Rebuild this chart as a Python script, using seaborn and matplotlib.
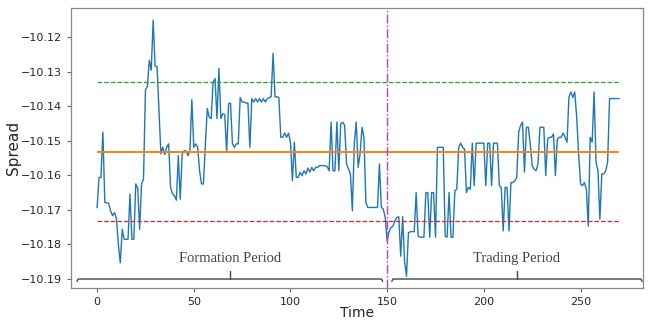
import numpy as np
import pandas as pd
import matplotlib
matplotlib.use("Agg")
import matplotlib.pyplot as plt
import seaborn as sns

# ── data ──────────────────────────────────────────────────────
formation_spread = [
    -10.1694, -10.1606, -10.1606, -10.1475, -10.1679, -10.1679, -10.1682, -10.1703, -10.1717, -10.1708,
    -10.1724, -10.1800, -10.1853, -10.1756, -10.1785, -10.1785, -10.1785, -10.1654, -10.1785, -10.1785,
    -10.1625, -10.1637, -10.1756, -10.1625, -10.1611, -10.1354, -10.1342, -10.1267, -10.1296, -10.1151,
    -10.1284, -10.1286, -10.1412, -10.1538, -10.1519, -10.1540, -10.1519, -10.1509, -10.1635, -10.1654,
    -10.1659, -10.1672, -10.1543, -10.1669, -10.1538, -10.1529, -10.1529, -10.1543, -10.1529, -10.1381,
    -10.1519, -10.1509, -10.1519, -10.1587, -10.1625, -10.1625, -10.1509, -10.1407, -10.1432, -10.1436,
    -10.1330, -10.1320, -10.1436, -10.1291, -10.1436, -10.1422, -10.1424, -10.1533, -10.1393, -10.1391,
    -10.1509, -10.1519, -10.1509, -10.1509, -10.1375, -10.1388, -10.1388, -10.1391, -10.1391, -10.1519,
    -10.1378, -10.1388, -10.1378, -10.1388, -10.1378, -10.1388, -10.1378, -10.1388, -10.1378, -10.1375,
    -10.1373, -10.1247, -10.1373, -10.1373, -10.1375, -10.1490, -10.1490, -10.1478, -10.1490, -10.1478,
    -10.1504, -10.1616, -10.1504, -10.1606, -10.1606, -10.1591, -10.1601, -10.1587, -10.1596, -10.1579,
    -10.1591, -10.1577, -10.1587, -10.1577, -10.1577, -10.1572, -10.1572, -10.1572, -10.1572, -10.1575,
    -10.1587, -10.1446, -10.1587, -10.1587, -10.1446, -10.1587, -10.1451, -10.1446, -10.1456, -10.1567,
    -10.1582, -10.1596, -10.1703, -10.1509, -10.1446, -10.1577, -10.1538, -10.1461, -10.1490, -10.1679,
    -10.1693, -10.1693, -10.1693, -10.1693, -10.1693, -10.1693, -10.1567, -10.1693, -10.1698, -10.1722,
]
trading_spread = [
    -10.1790, -10.1761, -10.1751, -10.1747, -10.1732, -10.1722, -10.1720, -10.1834, -10.1720, -10.1848,
    -10.1892, -10.1766, -10.1763, -10.1763, -10.1763, -10.1650, -10.1776, -10.1779, -10.1779, -10.1779,
    -10.1650, -10.1650, -10.1779, -10.1650, -10.1650, -10.1779, -10.1519, -10.1519, -10.1519, -10.1519,
    -10.1776, -10.1779, -10.1650, -10.1779, -10.1779, -10.1645, -10.1640, -10.1519, -10.1507, -10.1519,
    -10.1524, -10.1650, -10.1635, -10.1640, -10.1507, -10.1630, -10.1507, -10.1507, -10.1507, -10.1507,
    -10.1507, -10.1630, -10.1507, -10.1507, -10.1630, -10.1507, -10.1507, -10.1507, -10.1630, -10.1635,
    -10.1761, -10.1635, -10.1635, -10.1761, -10.1621, -10.1621, -10.1616, -10.1606, -10.1475, -10.1456,
    -10.1446, -10.1591, -10.1461, -10.1461, -10.1509, -10.1572, -10.1582, -10.1587, -10.1567, -10.1461,
    -10.1461, -10.1461, -10.1601, -10.1495, -10.1490, -10.1490, -10.1480, -10.1601, -10.1495, -10.1490,
    -10.1490, -10.1478, -10.1490, -10.1504, -10.1373, -10.1359, -10.1375, -10.1359, -10.1432, -10.1538,
    -10.1625, -10.1630, -10.1621, -10.1640, -10.1747, -10.1490, -10.1504, -10.1359, -10.1562, -10.1587,
    -10.1727, -10.1596, -10.1596, -10.1587, -10.1562, -10.1378, -10.1378, -10.1378, -10.1378, -10.1378,
    -10.1378,
]
upper_band = -10.1331
mean_level = -10.1534
lower_band = -10.1733
split_at = 150
formation_span = (-10.4, 147.7)
trading_span = (152.4, 281.8)
period_labels = ["Formation Period", "Trading Period"]

spread = formation_spread + trading_spread
df = pd.DataFrame({"Time": np.arange(len(spread)), "Spread": spread})

# ── figure ────────────────────────────────────────────────────
sns.set_style("ticks")
plt.rcParams['font.family'] = ['DejaVu Sans']
fig = plt.figure(figsize=(6.53, 3.2), dpi=100)
ax = fig.add_axes([0.109, 0.1, 0.876, 0.875])

sns.lineplot(data=df, x="Time", y="Spread", ax=ax, color="#1f77b4", linewidth=1.0)

t_end = df["Time"].iloc[-1]
ax.hlines(upper_band, 0, t_end, colors="#2ca02c", linestyles="--", linewidth=0.9)
ax.hlines(mean_level, 0, t_end, colors="#ff7f0e", linestyles="-", linewidth=1.4)
ax.hlines(lower_band, 0, t_end, colors="#d62728", linestyles="--", linewidth=0.9)
ax.axvline(split_at, color="#c03cc8", linestyle="-.", linewidth=1.0)

# brackets under the two periods
y_br = -10.19
for (x0, x1), label in zip([formation_span, trading_span], period_labels):
    ax.plot([x0, x0 + 0.6, x1 - 0.6, x1], [y_br - 0.0007, y_br, y_br, y_br - 0.0007],
            color="#444444", linewidth=1.0)
    xm = (x0 + x1) / 2
    ax.plot([xm, xm], [y_br, y_br + 0.0022], color="#444444", linewidth=1.0)
    ax.text(xm, y_br + 0.0058, label, ha="center", va="center", fontsize=10.5,
            family=["Liberation Serif", "DejaVu Serif"], color="#444444")

ax.set_xlim(-13.4, 282.4)
ax.set_ylim(-10.1926, -10.1116)
ax.set_xticks([0, 50, 100, 150, 200, 250])
ax.set_yticks([-10.12, -10.13, -10.14, -10.15, -10.16, -10.17, -10.18, -10.19])
ax.ticklabel_format(axis="y", useOffset=False)
ax.tick_params(labelsize=8, color="#666666", length=3)
for s in ax.spines.values():
    s.set_color("#888888")
    s.set_linewidth(0.9)
ax.set_xlabel("Time", fontsize=10, labelpad=-1)
ax.set_ylabel("Spread", fontsize=11, labelpad=0)

fig.savefig("out.png", dpi=100)
